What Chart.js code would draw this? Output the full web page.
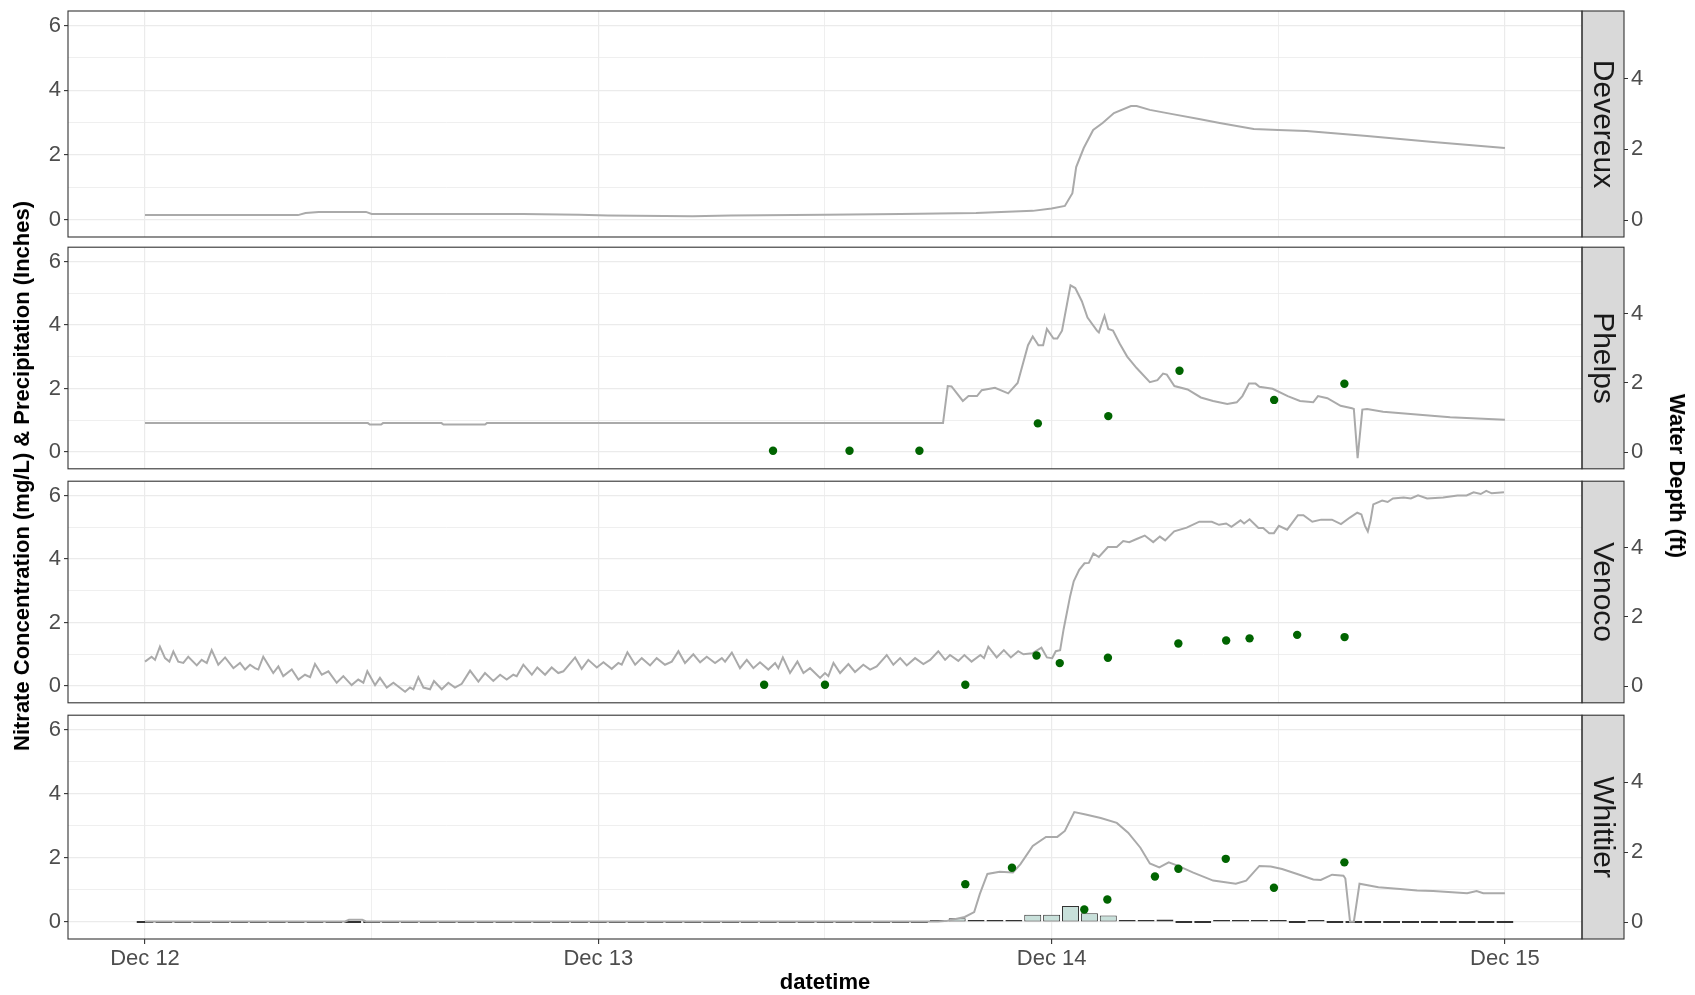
<!DOCTYPE html>
<html>
<head>
<meta charset="utf-8">
<title>Nitrate, precipitation and water depth by site</title>
<script src="https://cdn.jsdelivr.net/npm/chart.js@4.4.1/dist/chart.umd.min.js"></script>
<style>
  body { margin: 0; background: #fff; font-family: "Liberation Sans", Arial, sans-serif; }
  .wrap { position: relative; width: 1695px; height: 995px; overflow: hidden; }
  .wrap canvas { position: absolute; left: 0; }
  .axis-title { position: absolute; font-weight: bold; font-size: 22px; color: #000; white-space: nowrap; }
  #yTitleLeft { left: 22px; top: 476px; transform: translate(-50%, -50%) rotate(-90deg); }
  #yTitleRight { left: 1677px; top: 476px; transform: translate(-50%, -50%) rotate(90deg); }
  #xTitle { left: 825px; top: 982px; transform: translate(-50%, -50%); }
</style>
</head>
<body>
<div class="wrap">
  <canvas id="panel0"></canvas>
  <canvas id="panel1"></canvas>
  <canvas id="panel2"></canvas>
  <canvas id="panel3"></canvas>
  <div class="axis-title" id="yTitleLeft">Nitrate Concentration (mg/L) &amp; Precipitation (Inches)</div>
  <div class="axis-title" id="yTitleRight">Water Depth (ft)</div>
  <div class="axis-title" id="xTitle">datetime</div>
</div>

<script>
// ---------------------- DATA (hours since Dec 12 00:00) ----------------------
const sites = ["Devereux", "Phelps", "Venoco", "Whittier"];

const xTickHours = [0, 24, 48, 72];
const xTickLabels = ["Dec 12", "Dec 13", "Dec 14", "Dec 15"];
const xGridHours = [0, 12, 24, 36, 48, 60, 72];
const leftTicks = [0, 2, 4, 6];
const leftGrid = [0, 1, 2, 3, 4, 5, 6];
const rightTicks = [0, 2, 4];

// water depth (ft)
const devereuxT = [0, 8.1, 8.5, 9.2, 11.7, 12.0, 20, 23, 24.5, 29, 31, 36, 40, 44, 47, 48.0, 48.7, 49.1, 49.3, 49.7,
  50.2, 50.7, 51.3, 52.2, 52.5, 53.2, 54.4, 55.8, 56.9, 58.7, 60, 61.5, 64.7, 68.2, 72];
const devereuxDepth = [0.14, 0.14, 0.2, 0.23, 0.23, 0.17, 0.17, 0.15, 0.13, 0.11, 0.13, 0.15, 0.17, 0.2, 0.26, 0.33, 0.4, 0.76, 1.5, 2.04,
  2.55, 2.75, 3.03, 3.23, 3.23, 3.12, 3.0, 2.86, 2.75, 2.58, 2.55, 2.52, 2.38, 2.21, 2.04];

const phelpsT = [0, 11.8, 11.9, 12.5, 12.6, 15.7, 15.8, 18.0, 18.1, 42.25, 42.5, 42.7, 43.3, 43.6, 44.05, 44.3, 45.0, 45.7, 46.2,
  46.75, 47.0, 47.3, 47.55, 47.75, 48.1, 48.3, 48.55, 49.0, 49.25, 49.6, 49.9, 50.4, 50.5, 50.8, 51.0, 51.25, 51.6, 52.0,
  52.5, 53.2, 53.6, 53.9, 54.1, 54.5, 55.2, 55.9, 56.55, 57.3, 57.8, 58.1, 58.45, 58.8, 59.0, 59.7, 60.5, 61.15, 61.85,
  62.1, 62.6, 63.3, 63.9, 64.0, 64.2, 64.45, 64.7, 65.55, 67.0, 69.1, 72];
const phelpsDepth = [0.84, 0.84, 0.8, 0.8, 0.84, 0.84, 0.8, 0.8, 0.84, 0.84, 1.91, 1.9, 1.48, 1.62, 1.62, 1.79, 1.86, 1.7, 2.0,
  3.09, 3.34, 3.09, 3.09, 3.56, 3.28, 3.28, 3.51, 4.82, 4.74, 4.36, 3.89, 3.51, 3.46, 3.94, 3.56, 3.51, 3.14, 2.76,
  2.43, 2.02, 2.08, 2.27, 2.24, 1.91, 1.81, 1.58, 1.48, 1.39, 1.44, 1.62, 1.98, 1.98, 1.89, 1.83, 1.62, 1.48, 1.44,
  1.62, 1.56, 1.34, 1.27, 1.25, -0.17, 1.23, 1.25, 1.17, 1.1, 1.01, 0.94];

const venocoT = [0, 0.35, 0.53, 0.79, 1.06, 1.29, 1.5, 1.76, 2.03, 2.29, 2.74, 3.0, 3.27, 3.53, 3.88, 4.24, 4.68, 5.03, 5.3,
  5.56, 5.82, 6.0, 6.26, 6.79, 7.06, 7.32, 7.77, 8.12, 8.47, 8.74, 9.0, 9.36, 9.71, 10.15, 10.5, 10.94, 11.29, 11.56,
  11.77, 12.18, 12.44, 12.8, 13.15, 13.77, 14.03, 14.21, 14.47, 14.74, 15.09, 15.3, 15.71, 16.06, 16.41, 16.77, 17.21,
  17.65, 18.0, 18.44, 18.8, 19.15, 19.5, 19.68, 20.03, 20.48, 20.77, 21.18, 21.53, 21.88, 22.15, 22.77, 23.12, 23.47,
  23.92, 24.27, 24.71, 25.06, 25.24, 25.54, 25.95, 26.3, 26.74, 27.09, 27.53, 27.89, 28.24, 28.59, 29.03, 29.39, 29.74,
  30.18, 30.54, 30.71, 31.07, 31.5, 31.86, 32.21, 32.56, 33.0, 33.36, 33.53, 33.77, 34.15, 34.54, 34.86, 35.21, 35.74,
  36.0, 36.18, 36.45, 36.8, 37.24, 37.59, 38.03, 38.39, 38.74, 39.27, 39.62, 39.98, 40.33, 40.77, 41.21, 41.57, 42.0,
  42.36, 42.62, 43.06, 43.38, 43.76, 44.23, 44.42, 44.65, 45.09, 45.47, 45.84, 46.23, 46.51, 46.98, 47.46, 47.75, 48.03,
  48.22, 48.45, 48.64, 48.98, 49.17, 49.46, 49.74, 49.97, 50.21, 50.5, 50.98, 51.45, 51.79, 52.11, 52.5, 52.93, 53.38,
  53.73, 54.01, 54.49, 55.15, 55.82, 56.48, 56.86, 57.24, 57.52, 58.0, 58.19, 58.48, 58.95, 59.2, 59.52, 59.77, 60.03,
  60.47, 61.04, 61.33, 61.8, 62.27, 62.84, 63.32, 63.79, 64.18, 64.4, 64.59, 64.74, 64.88, 65.03, 65.5, 65.79, 66.07,
  66.64, 67.02, 67.4, 67.88, 68.73, 69.49, 69.97, 70.34, 70.72, 71.01, 71.3, 71.95];
const venocoDepth = [0.71, 0.85, 0.76, 1.14, 0.81, 0.71, 1.0, 0.71, 0.67, 0.85, 0.6, 0.76, 0.67, 1.04, 0.62, 0.83, 0.52, 0.67, 0.48,
  0.62, 0.52, 0.48, 0.85, 0.38, 0.57, 0.29, 0.48, 0.19, 0.33, 0.26, 0.64, 0.33, 0.43, 0.1, 0.29, 0.03, 0.19, 0.1,
  0.43, 0.03, 0.24, -0.04, 0.1, -0.16, -0.04, -0.09, 0.26, -0.04, -0.09, 0.15, -0.09, 0.1, -0.04, 0.07, 0.45,
  0.13, 0.38, 0.15, 0.33, 0.19, 0.33, 0.29, 0.62, 0.33, 0.54, 0.33, 0.54, 0.38, 0.43, 0.83, 0.5, 0.76,
  0.54, 0.69, 0.5, 0.67, 0.62, 0.98, 0.62, 0.81, 0.6, 0.81, 0.62, 0.71, 1.01, 0.67, 0.92, 0.69, 0.85,
  0.67, 0.81, 0.71, 0.97, 0.52, 0.76, 0.52, 0.69, 0.48, 0.67, 0.52, 0.83, 0.38, 0.71, 0.38, 0.52, 0.24,
  0.38, 0.29, 0.67, 0.38, 0.64, 0.41, 0.62, 0.48, 0.57, 0.9, 0.62, 0.81, 0.6, 0.81, 0.64, 0.76, 1.01,
  0.76, 0.9, 0.73, 0.9, 0.71, 0.9, 0.81, 1.14, 0.83, 1.04, 0.83, 1.01, 0.92, 0.95, 1.11, 0.83, 0.81,
  1.01, 1.04, 1.66, 2.6, 3.03, 3.36, 3.55, 3.56, 3.83, 3.73, 4.02, 4.02, 4.19, 4.16, 4.25, 4.35, 4.16,
  4.32, 4.21, 4.47, 4.58, 4.75, 4.75, 4.66, 4.7, 4.6, 4.79, 4.7, 4.82, 4.57, 4.57, 4.42, 4.42, 4.63,
  4.52, 4.94, 4.94, 4.75, 4.81, 4.81, 4.68, 4.87, 5.01, 4.96, 4.63, 4.47, 4.77, 5.25, 5.36, 5.32, 5.42,
  5.45, 5.42, 5.51, 5.42, 5.45, 5.51, 5.51, 5.6, 5.55, 5.64, 5.57, 5.6];

const whittierT = [0, 10.6, 10.8, 11.5, 11.7, 42.0, 42.5, 43.4, 43.9, 44.2, 44.6, 45.25, 45.95, 46.35, 47.0, 47.7, 48.3, 48.7,
  49.2, 49.8, 50.6, 51.45, 52.05, 52.7, 53.2, 53.7, 54.2, 54.7, 55.5, 56.55, 57.75, 58.3, 59.0, 59.6, 60.2, 61.0,
  61.85, 62.25, 62.85, 63.45, 63.55, 63.8, 64.0, 64.3, 65.3, 66.45, 67.35, 68.2, 70.0, 70.5, 70.85, 72];
const whittierDepth = [0.02, 0.02, 0.07, 0.07, 0.02, 0.02, 0.04, 0.15, 0.29, 0.81, 1.38, 1.44, 1.42, 1.66, 2.18, 2.44, 2.44, 2.61,
  3.15, 3.08, 2.98, 2.84, 2.56, 2.13, 1.68, 1.57, 1.71, 1.61, 1.42, 1.19, 1.1, 1.19, 1.61, 1.59, 1.52, 1.38,
  1.22, 1.21, 1.36, 1.33, 1.25, 0.01, 0.01, 1.1, 1.0, 0.95, 0.91, 0.89, 0.83, 0.89, 0.83, 0.83];

// nitrate (mg/L)
const phelpsNitrateT = [33.25, 37.3, 41.0, 47.27, 51.0, 54.77, 59.78, 63.5];
const phelpsNitrate = [0.04, 0.04, 0.04, 0.9, 1.13, 2.56, 1.64, 2.15];
const venocoNitrateT = [32.78, 36.0, 43.43, 47.2, 48.43, 50.98, 54.71, 57.24, 58.48, 61.0, 63.51];
const venocoNitrate = [0.04, 0.04, 0.04, 0.96, 0.72, 0.89, 1.34, 1.43, 1.5, 1.61, 1.54];
const whittierNitrateT = [43.43, 45.9, 49.73, 50.95, 53.47, 54.71, 57.22, 59.77, 63.5];
const whittierNitrate = [1.18, 1.69, 0.39, 0.7, 1.42, 1.66, 1.97, 1.07, 1.86];

// hourly precipitation at Whittier (inches), hours 0..72
const whittierRain = [
  0, 0, 0, 0, 0, 0, 0, 0, 0, 0, 0, 0, 0, 0, 0, 0, 0, 0, 0, 0, 0, 0, 0, 0,
  0, 0, 0, 0, 0, 0, 0, 0, 0, 0, 0, 0, 0, 0, 0, 0, 0, 0, 0.06, 0.12, 0.06, 0.06, 0.06, 0.23,
  0.23, 0.5, 0.27, 0.2, 0.06, 0.02, 0.08, 0, 0, 0.02, 0.05, 0.05, 0.02, 0, 0.05, 0, 0, 0, 0, 0, 0, 0, 0, 0, 0
];

// ---------------------- LAYOUT & STYLE ----------------------
const FONT = '"Liberation Sans", Arial, sans-serif';
Chart.defaults.font.family = FONT;

const panelTops = [11, 245, 479, 713];
const PANEL_H = 226;
const PLOT_LEFT = 68;
const PLOT_RIGHT = 1582;
const STRIP_W = 42;
const X_MIN = -4.077;
const X_MAX = 76.08;
const LINE_GREY = "#aaaaaa";
const GRID = "#ebebeb";
const TICK_FONT = { size: 22 };

function toPoints(ts, vs) {
  return ts.map((t, i) => ({ x: t, y: vs[i] }));
}

// chart.js reserves room for half a tick label at the ends of each axis; the
// labels here sit well inside the panel, so drop that padding
function noEdgePadding(s) {
  s.paddingTop = 0;
  s.paddingBottom = 0;
  s.paddingLeft = 0;
  s.paddingRight = 0;
}

// ---------------------- PANEL FRAME + STRIP ----------------------
const panelFrame = {
  id: "panelFrame",
  afterDraw(chart, args, opts) {
    const { ctx, chartArea: a } = chart;
    const h = a.bottom - a.top;
    ctx.save();
    ctx.fillStyle = "#d9d9d9";
    ctx.fillRect(a.right, a.top, STRIP_W, h);
    ctx.strokeStyle = "#333333";
    ctx.lineWidth = 1.1;
    ctx.strokeRect(a.right, a.top, STRIP_W, h);
    ctx.strokeRect(a.left, a.top, a.right - a.left, h);

    ctx.translate(a.right + STRIP_W / 2, a.top + h / 2);
    ctx.rotate(Math.PI / 2);
    ctx.fillStyle = "#1a1a1a";
    ctx.font = `30px ${FONT}`;
    ctx.textAlign = "center";
    ctx.textBaseline = "middle";
    ctx.fillText(opts.label, 0, 1);
    ctx.restore();
  },
};

// ---------------------- BUILD ONE PANEL ----------------------
function renderPanel(index, depthT, depth, nitrateT, nitrate, rain) {
  const isBottom = index === sites.length - 1;
  const axisH = isBottom ? 44 : 0;
  const canvas = document.getElementById(`panel${index}`);
  canvas.width = 1695;
  canvas.height = 2 + PANEL_H + axisH + (isBottom ? 0 : 2);
  canvas.style.top = `${panelTops[index] - 2}px`;

  const datasets = [
    {
      type: "line",
      label: "Water depth",
      data: toPoints(depthT, depth),
      yAxisID: "y2",
      borderColor: LINE_GREY,
      borderWidth: 2,
      pointRadius: 0,
      tension: 0,
      order: 2,
    },
  ];

  if (nitrate) {
    datasets.push({
      type: "scatter",
      label: "Nitrate",
      data: toPoints(nitrateT, nitrate),
      yAxisID: "y",
      backgroundColor: "#006400",
      borderWidth: 0,
      pointRadius: 4.2,
      order: 1,
    });
  }

  if (rain) {
    datasets.push({
      type: "bar",
      label: "Precipitation",
      data: rain.map((v, h) => ({ x: h, y: v })),
      yAxisID: "y",
      backgroundColor: "#c8e0da",
      borderColor: "#333333",
      borderWidth: 1,
      borderSkipped: false,
      minBarLength: 2,
      barPercentage: 0.9,
      categoryPercentage: 1,
      grouped: false,
      order: 3,
    });
  }

  new Chart(canvas, {
    type: "line",
    data: { datasets },
    plugins: [panelFrame],
    options: {
      responsive: false,
      animation: false,
      events: [],
      layout: { padding: { top: 2, bottom: isBottom ? 0 : 2, left: 0, right: 0 } },
      plugins: {
        legend: { display: false },
        tooltip: { enabled: false },
        panelFrame: { label: sites[index] },
      },
      scales: {
        x: {
          type: "linear",
          min: X_MIN,
          max: X_MAX,
          offset: false,
          afterBuildTicks: (s) => { s.ticks = xGridHours.map((v) => ({ value: v })); },
          afterFit: (s) => { s.height = axisH; noEdgePadding(s); },
          border: { display: false },
          grid: {
            offset: false,
            color: GRID,
            lineWidth: (c) => (c.tick && xTickHours.includes(c.tick.value) ? 1.2 : 0.8),
            drawTicks: isBottom,
            tickLength: 5,
            tickWidth: 1.1,
            tickColor: (c) => (c.tick && xTickHours.includes(c.tick.value) ? "#333333" : "rgba(0,0,0,0)"),
          },
          ticks: {
            display: isBottom,
            autoSkip: false,
            maxRotation: 0,
            padding: 2,
            color: "#4d4d4d",
            font: TICK_FONT,
            callback: (v) => {
              const i = xTickHours.indexOf(v);
              return i >= 0 ? xTickLabels[i] : "";
            },
          },
        },
        y: {
          position: "left",
          min: -0.53,
          max: 6.45,
          afterBuildTicks: (s) => { s.ticks = leftGrid.map((v) => ({ value: v })); },
          afterFit: (s) => { s.width = PLOT_LEFT; noEdgePadding(s); },
          border: { display: false },
          grid: {
            color: GRID,
            lineWidth: (c) => (c.tick && leftTicks.includes(c.tick.value) ? 1.2 : 0.8),
            tickLength: 4,
            tickWidth: 1.1,
            tickColor: (c) => (c.tick && leftTicks.includes(c.tick.value) ? "#333333" : "rgba(0,0,0,0)"),
          },
          ticks: {
            padding: 3,
            color: "#4d4d4d",
            font: TICK_FONT,
            callback: (v) => (leftTicks.includes(v) ? String(v) : ""),
          },
        },
        y2: {
          position: "right",
          min: -0.48,
          max: 5.92,
          afterBuildTicks: (s) => { s.ticks = rightTicks.map((v) => ({ value: v })); },
          afterFit: (s) => { s.width = 1695 - PLOT_RIGHT; noEdgePadding(s); },
          border: { display: false },
          grid: {
            drawOnChartArea: false,
            tickLength: STRIP_W + 4,
            tickWidth: 1.1,
            tickColor: "#333333",
          },
          ticks: {
            padding: 3,
            color: "#4d4d4d",
            font: TICK_FONT,
            callback: (v) => String(v),
          },
        },
      },
    },
  });
}

// ---------------------- RENDER ALL PANELS ----------------------
renderPanel(0, devereuxT, devereuxDepth, null, null, null);
renderPanel(1, phelpsT, phelpsDepth, phelpsNitrateT, phelpsNitrate, null);
renderPanel(2, venocoT, venocoDepth, venocoNitrateT, venocoNitrate, null);
renderPanel(3, whittierT, whittierDepth, whittierNitrateT, whittierNitrate, whittierRain);
</script>
</body>
</html>
